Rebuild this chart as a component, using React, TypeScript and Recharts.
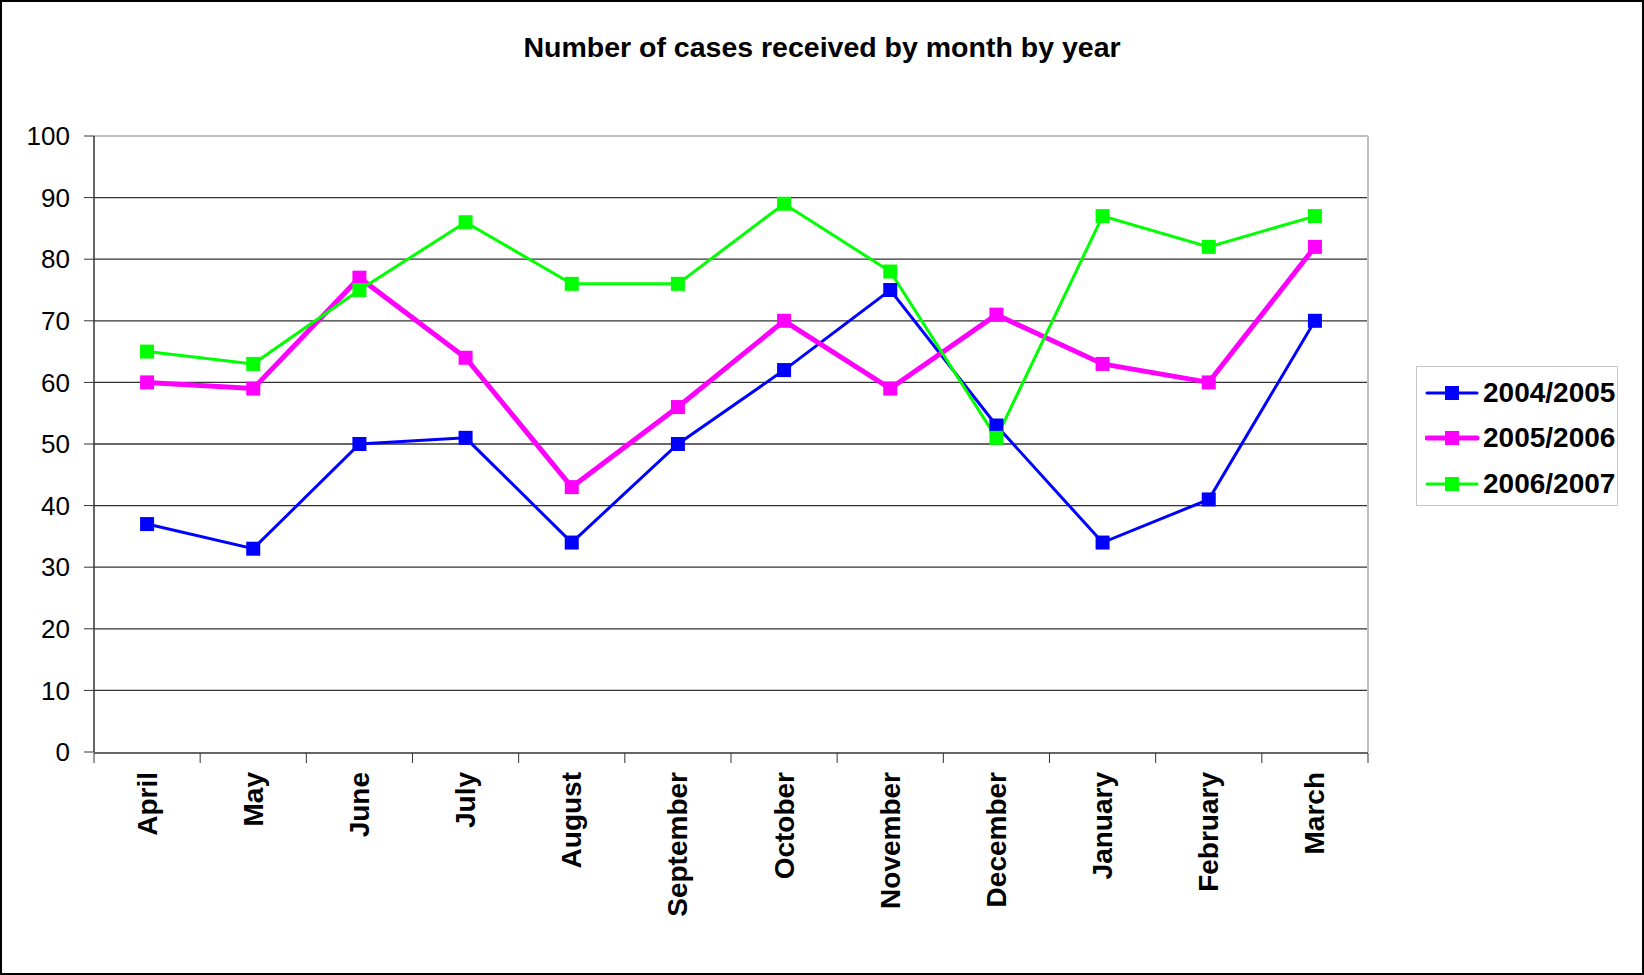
import { CartesianGrid, Legend, Line, LineChart, ReferenceLine, XAxis, YAxis } from "recharts";

const months = ["April", "May", "June", "July", "August", "September", "October", "November", "December", "January", "February", "March"];
const cases2004 = [37, 33, 50, 51, 34, 50, 62, 75, 53, 34, 41, 70];
const cases2005 = [60, 59, 77, 64, 43, 56, 70, 59, 71, 63, 60, 82];
const cases2006 = [65, 63, 75, 86, 76, 76, 89, 78, 51, 87, 82, 87];
const yTicks = [0, 10, 20, 30, 40, 50, 60, 70, 80, 90, 100];
const boundaryTicks = [0, 1, 2, 3, 4, 5, 6, 7, 8, 9, 10, 11, 12];

const series = [
  { key: "y2004", name: "2004/2005", color: "#0000ff", width: 3 },
  { key: "y2005", name: "2005/2006", color: "#ff00ff", width: 5 },
  { key: "y2006", name: "2006/2007", color: "#00ff00", width: 3 }
];

const data = months.map((m, i) => ({
  month: m,
  y2004: cases2004[i],
  y2005: cases2005[i],
  y2006: cases2006[i]
}));

const FONT = '"Liberation Sans", Arial, sans-serif';

function squareDot(color: string) {
  return (props: any) => {
    const { cx, cy, index } = props;
    if (cx == null || cy == null) return <g key={index} />;
    return <rect key={index} x={cx - 7} y={cy - 7} width={14} height={14} fill={color} />;
  };
}

function MonthTick(props: any) {
  const { x, y, payload } = props;
  return (
    <text
      x={x}
      y={y}
      transform={`rotate(-90, ${x}, ${y})`}
      textAnchor="end"
      dominantBaseline="central"
      fontFamily={FONT}
      fontWeight="bold"
      fontSize={28}
      fill="#000"
    >
      {payload.value}
    </text>
  );
}

function LegendBox() {
  return (
    <div
      style={{
        width: 202,
        height: 140,
        boxSizing: "border-box",
        border: "1px solid #c8c8c8",
        background: "#fff",
        paddingTop: 3
      }}
    >
      {series.map((s) => (
        <div key={s.key} style={{ display: "flex", alignItems: "center", height: 45.5 }}>
          <svg width={66} height={20} style={{ marginLeft: 8 }}>
            <line x1={2} y1={10} x2={52} y2={10} stroke={s.color} strokeWidth={s.width} strokeLinecap="round" />
            <rect x={20} y={3} width={14} height={14} fill={s.color} />
          </svg>
          <span style={{ fontFamily: FONT, fontWeight: "bold", fontSize: 28, color: "#000", marginLeft: -8 }}>
            {s.name}
          </span>
        </div>
      ))}
    </div>
  );
}

export default function App() {
  return (
    <div style={{ position: "fixed", left: 0, top: 0, width: 1644, height: 975, background: "#fff" }}>
      <div
        style={{
          position: "absolute",
          left: 0,
          top: 0,
          width: 1644,
          height: 975,
          boxSizing: "border-box",
          border: "2px solid #000",
          pointerEvents: "none",
          zIndex: 2
        }}
      />
      <div
        style={{
          position: "absolute",
          left: 0,
          top: 31,
          width: 1644,
          textAlign: "center",
          fontFamily: FONT,
          fontWeight: "bold",
          fontSize: 28.5,
          color: "#000"
        }}
      >
        Number of cases received by month by year
      </div>
      <LineChart width={1644} height={975} data={data} margin={{ top: 136, right: 276, left: 0, bottom: 0 }}>
        <CartesianGrid horizontal vertical={false} horizontalValues={yTicks.slice(1, -1)} stroke="#333" strokeWidth={1.3} />
        <XAxis
          xAxisId="cat"
          dataKey="month"
          scale="band"
          height={1}
          interval={0}
          axisLine={false}
          tickLine={false}
          tickSize={0}
          tickMargin={20}
          tick={<MonthTick />}
        />
        <XAxis
          xAxisId="grid"
          type="number"
          dataKey={(d: any) => months.indexOf(d.month) + 0.5}
          domain={[0, 12]}
          ticks={boundaryTicks}
          interval={0}
          height={222}
          tick={() => <g />}
          tickSize={10}
          tickLine={{ stroke: "#333" }}
          axisLine={{ stroke: "#333", strokeWidth: 1.5 }}
        />
        <YAxis
          domain={[0, 100]}
          ticks={yTicks}
          interval={0}
          width={94}
          tickSize={10}
          tickMargin={14}
          tickLine={{ stroke: "#333" }}
          axisLine={{ stroke: "#333", strokeWidth: 1.5 }}
          tick={{ fontFamily: FONT, fontSize: 26, fill: "#000" }}
        />
        <ReferenceLine y={100} xAxisId="cat" stroke="#c0c0c0" strokeWidth={2} />
        <ReferenceLine x={12} xAxisId="grid" stroke="#c0c0c0" strokeWidth={2} />
        <Line
          xAxisId="grid"
          dataKey="y2004"
          stroke="none"
          dot={false}
          activeDot={false}
          legendType="none"
          isAnimationActive={false}
        />
        {series.map((s) => (
          <Line
            key={s.key}
            xAxisId="cat"
            type="linear"
            dataKey={s.key}
            name={s.name}
            stroke={s.color}
            strokeWidth={s.width}
            dot={squareDot(s.color)}
            activeDot={false}
            isAnimationActive={false}
          />
        ))}
        <Legend
          layout="horizontal"
          verticalAlign="middle"
          align="center"
          content={() => <LegendBox />}
          wrapperStyle={{ position: "absolute", left: 1416, top: 366, width: 202, height: 140 }}
        />
      </LineChart>
    </div>
  );
}
